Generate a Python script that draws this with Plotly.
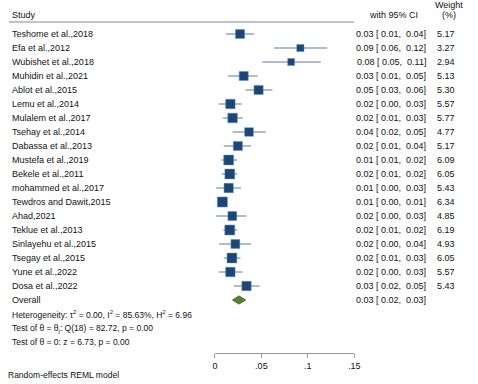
import plotly.graph_objects as go

studies = ["Teshome et al.,2018", "Efa et al.,2012", "Wubishet et al.,2018", "Muhidin et al.,2021",
           "Ablot et al.,2015", "Lemu et al.,2014", "Mulalem et al.,2017", "Tsehay et al.,2014",
           "Dabassa et al.,2013", "Mustefa et al.,2019", "Bekele et al.,2011", "mohammed et al.,2017",
           "Tewdros and Dawit,2015", "Ahad,2021", "Teklue et al.,2013", "Sinlayehu et al.,2015",
           "Tsegay et al.,2015", "Yune et al.,2022", "Dosa et al.,2022"]
es = [0.027, 0.092, 0.082, 0.031, 0.047, 0.0166, 0.019, 0.0367, 0.0247, 0.0148,
      0.016, 0.0148, 0.008, 0.0187, 0.016, 0.022, 0.0183, 0.0166, 0.034]
lo = [0.012, 0.0635, 0.051, 0.014, 0.033, 0.004, 0.0085, 0.019, 0.0095, 0.0067,
      0.0074, 0.0014, 0.004, 0.0014, 0.009, 0.0045, 0.0095, 0.004, 0.0204]
hi = [0.042, 0.121, 0.114, 0.046, 0.062, 0.029, 0.030, 0.0547, 0.039, 0.024,
      0.024, 0.028, 0.0127, 0.034, 0.024, 0.039, 0.0275, 0.0296, 0.048]
weights = [5.17, 3.27, 2.94, 5.13, 5.30, 5.57, 5.77, 4.77, 5.17, 6.09,
           6.05, 5.43, 6.34, 4.85, 6.19, 4.93, 6.05, 5.57, 5.43]
overall = {"es": 0.026, "lo": 0.019, "hi": 0.033}
het_text = "Heterogeneity: τ<sup>2</sup> = 0.00, I<sup>2</sup> = 85.63%, H<sup>2</sup> = 6.96"
test1_text = "Test of θ = θ<sub>j</sub>: Q(18) = 82.72, p = 0.00"
test2_text = "Test of θ = 0: z = 6.73, p = 0.00"
tick_vals = [0, 0.05, 0.1, 0.15]
tick_text = ["0", ".05", ".1", ".15"]

W, H = 478, 384
FONT = "Liberation Sans, Arial, sans-serif"
FS = 9
NB = "\u00a0"

n = len(studies)
rows = list(range(n))
row_overall = n

fig = go.Figure()

# CI lines
xs, ys = [], []
for i in rows:
    xs += [lo[i], hi[i], None]
    ys += [i, i, None]
fig.add_trace(go.Scatter(x=xs, y=ys, mode="lines", line=dict(color="#5a7ba6", width=1.2),
                         hoverinfo="skip", showlegend=False))
# boxes
fig.add_trace(go.Scatter(x=es, y=rows, mode="markers", opacity=1,
                         marker=dict(symbol="square", size=[4.0 * w ** 0.5 for w in weights],
                                     color="#1a4778", opacity=1,
                                     line=dict(color="#6f8bb2", width=0.5)),
                         hoverinfo="skip", showlegend=False))
# overall diamond
dh = 0.29
fig.add_trace(go.Scatter(x=[overall["lo"], overall["es"], overall["hi"], overall["es"], overall["lo"]],
                         y=[row_overall, row_overall - dh, row_overall, row_overall + dh, row_overall],
                         mode="lines", fill="toself", fillcolor="#55822e",
                         line=dict(color="#3f6a1f", width=1), hoverinfo="skip", showlegend=False))

ann = []
def txt(xpx, y, s, anchor="left", size=FS, yref="y"):
    ann.append(dict(x=xpx / W, xref="paper", y=y, yref=yref, text=s, showarrow=False,
                    xanchor=anchor, yanchor="middle", font=dict(family=FONT, size=size, color="#111")))

def fmt(v):
    return f"{v:.2f}"

txt(7, -1.357, "Study")
txt(398, -1.357, "with 95% CI", anchor="center")
txt(455, -2.07, "Weight", anchor="center")
txt(455, -1.357, "(%)", anchor="center")
for i in rows:
    txt(7, i, studies[i])
    txt(433, i, f"{fmt(es[i])} [{NB}{fmt(lo[i])},{NB}{NB}{fmt(hi[i])}]", anchor="right")
    txt(463, i, f"{weights[i]:.2f}", anchor="right")
txt(7, row_overall, "Overall")
txt(433, row_overall, f"{fmt(overall['es'])} [{NB}{fmt(overall['lo'])},{NB}{NB}{fmt(overall['hi'])}]", anchor="right")
txt(7, row_overall + 1, het_text, size=8.5)
txt(7, row_overall + 2, test1_text, size=8.5)
txt(7, row_overall + 3, test2_text, size=8.5)
ann.append(dict(x=3 / W, xref="paper", y=1 - 375 / H, yref="paper", yanchor="middle", xanchor="left",
                text="Random-effects REML model", showarrow=False,
                font=dict(family=FONT, size=8.5, color="#111")))

shapes = [dict(type="line", xref="paper", yref="y", x0=6 / W, x1=358 / W, y0=-0.857, y1=-0.857,
               line=dict(color="#888", width=1.2))]

axis_bottom = 353
y0v = -34 / 14
y1v = (axis_bottom - 34) / 14

fig.update_layout(
    width=W, height=H, margin=dict(l=0, r=0, t=0, b=0),
    plot_bgcolor="white", paper_bgcolor="white",
    annotations=ann, shapes=shapes,
    xaxis=dict(domain=[216 / W, 358 / W], range=[0, 0.15], showgrid=False, zeroline=False,
               showline=True, linecolor="#999", linewidth=1.2, ticks="outside", ticklen=4,
               tickcolor="#999", tickvals=tick_vals, ticktext=tick_text,
               tickfont=dict(family=FONT, size=FS, color="#111")),
    yaxis=dict(domain=[1 - axis_bottom / H, 1], range=[y1v, y0v], visible=False,
               showgrid=False, zeroline=False),
)

fig.write_html("out.html", config={"displayModeBar": False},
               post_script="document.body.style.margin='0';document.body.style.padding='0';")
